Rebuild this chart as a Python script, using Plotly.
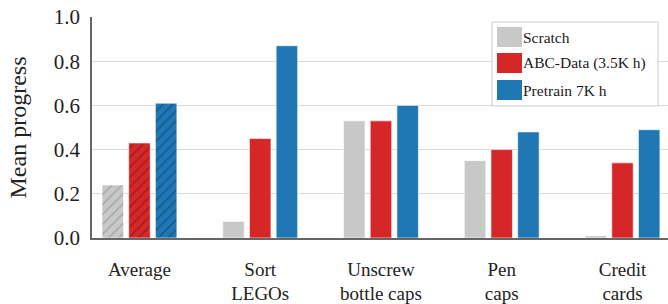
import plotly.graph_objects as go

categories = ["Average", "Sort<br>LEGOs", "Unscrew<br>bottle caps", "Pen<br>caps", "Credit<br>cards"]
scratch = [0.24, 0.075, 0.53, 0.35, 0.01]
abc_data = [0.43, 0.45, 0.53, 0.40, 0.34]
pretrain = [0.61, 0.87, 0.60, 0.48, 0.49]
series_names = ["Scratch", "ABC-Data (3.5K h)", "Pretrain 7K h"]
y_ticks = [0.0, 0.2, 0.4, 0.6, 0.8, 1.0]

colors = ["#c8c8c8", "#d62728", "#1f77b4"]
hatch_fg = ["#7a7a7a", "#5a0c0c", "#0b2f4d"]
FONT = "Liberation Serif, Times New Roman, serif"

x = list(range(len(categories)))
W = 0.178
STEP = 0.221
offsets = [-STEP - W / 2, -W / 2, STEP - W / 2]

fig = go.Figure()
for vals, name, col, fg, off in zip([scratch, abc_data, pretrain], series_names, colors, hatch_fg, offsets):
    fig.add_trace(go.Bar(
        x=x, y=vals, name=name, width=W, offset=off,
        marker=dict(
            color=col,
            line=dict(color="rgba(255,255,255,0.6)", width=1),
            pattern=dict(shape=["/"] + [""] * (len(vals) - 1), fgcolor=fg,
                         size=7, solidity=0.18, fillmode="overlay"),
        ),
        showlegend=False,
    ))

fig.update_layout(
    width=668, height=304,
    margin=dict(l=92, r=0, t=17, b=66),
    plot_bgcolor="white", paper_bgcolor="white",
    barmode="overlay",
    font=dict(family=FONT, color="#222"),
    xaxis=dict(
        tickmode="array", tickvals=x, ticktext=categories,
        range=[-0.393, 4.377], showgrid=False, zeroline=False,
        showline=True, linecolor="#666", linewidth=1.5,
        ticks="", tickfont=dict(size=19, family=FONT, color="#222"),
        ticklabelstandoff=13, automargin=False,
    ),
    yaxis=dict(
        range=[0, 1.0], tickvals=y_ticks, ticktext=[f"{v:.1f}" for v in y_ticks],
        showgrid=True, gridcolor="#d9d9d9", gridwidth=1,
        showline=True, linecolor="#666", linewidth=1.5, zeroline=False,
        ticks="", tickfont=dict(size=21, family=FONT, color="#222"),
        ticklabelstandoff=6, automargin=False,
        title=dict(text="Mean progress", font=dict(size=24, family=FONT, color="#222"), standoff=20),
    ),
)

# Manual legend (paper coordinates)
pw, ph = 576.0, 221.0
def px(v):
    return (v - 92) / pw
def py(v):
    return (238 - v) / ph

fig.add_shape(type="rect", xref="paper", yref="paper",
              x0=px(492), x1=px(658), y0=py(106), y1=py(22),
              line=dict(color="#cccccc", width=1), fillcolor="white")
rows = [37, 63, 90]
for name, col, yc in zip(series_names, colors, rows):
    fig.add_shape(type="rect", xref="paper", yref="paper",
                  x0=px(497), x1=px(522), y0=py(yc + 10), y1=py(yc - 10),
                  line=dict(width=0), fillcolor=col)
    fig.add_annotation(xref="paper", yref="paper", x=px(521), y=py(yc),
                       text=name, showarrow=False, xanchor="left", yanchor="middle",
                       font=dict(size=15.5, family=FONT, color="#1a1a1a"))

fig.write_html("out.html", config={"displayModeBar": False},
               post_script="document.body.style.margin='0';document.body.style.overflow='hidden';")
